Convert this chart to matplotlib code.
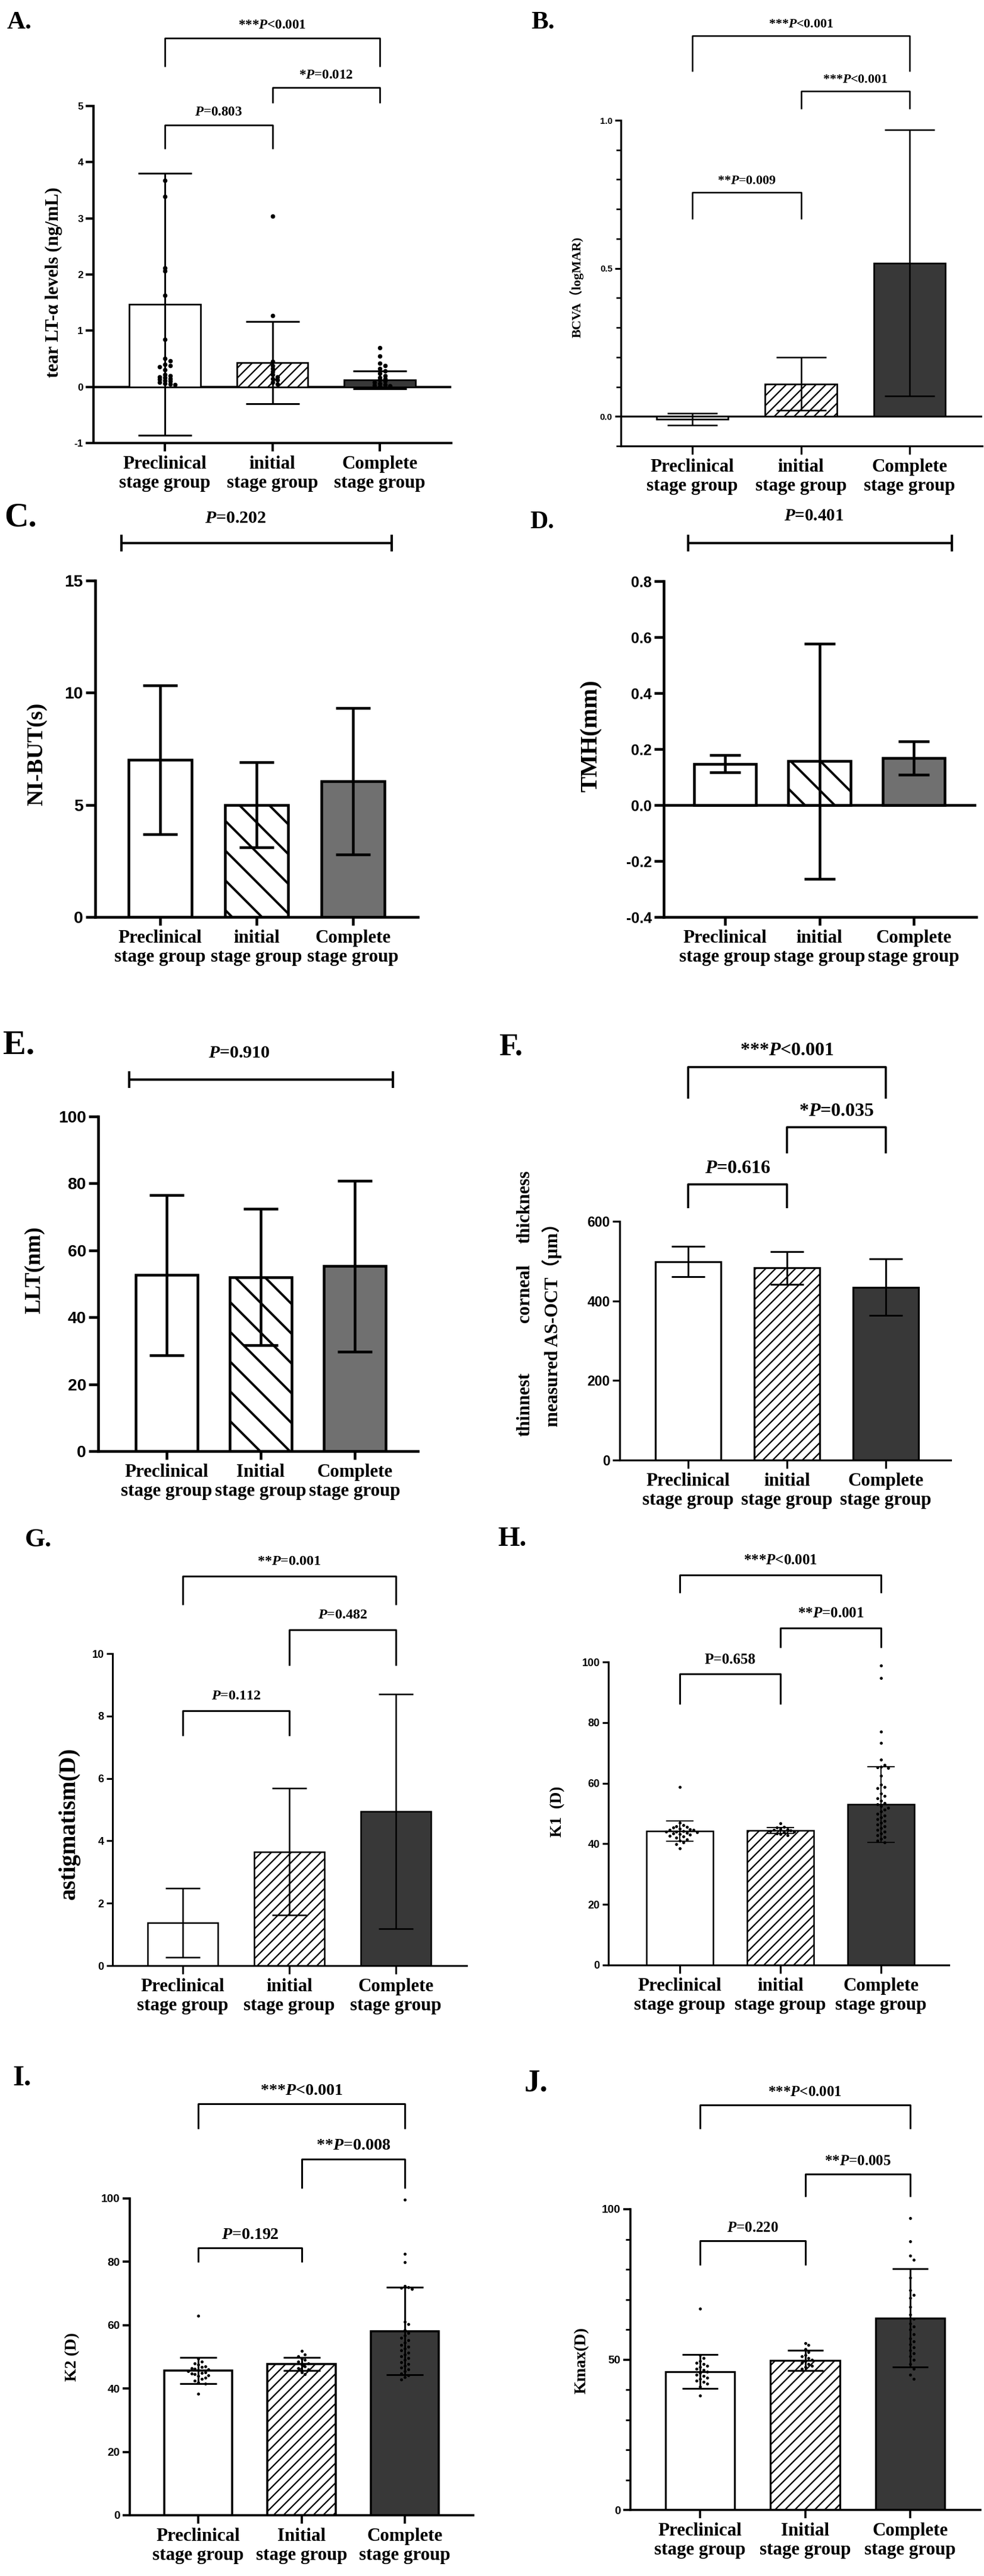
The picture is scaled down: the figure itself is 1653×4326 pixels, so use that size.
import numpy as np
import matplotlib
matplotlib.use('Agg')
import matplotlib.pyplot as plt

W, H, DPI = 1653, 4326, 150
P = 72.0 / DPI  # points per pixel

plt.rcParams['mathtext.fontset'] = 'custom'
plt.rcParams['mathtext.rm'] = 'Liberation Serif:bold'
plt.rcParams['mathtext.it'] = 'Liberation Serif:italic:bold'
plt.rcParams['mathtext.bf'] = 'Liberation Serif:bold'
plt.rcParams['axes.unicode_minus'] = False
plt.rcParams['hatch.linewidth'] = 1.0
SERIF = ['Liberation Serif', 'Noto Sans CJK SC']
SANS = ['Liberation Sans', 'DejaVu Sans']

# ---------------- data ----------------
cats_low = ['Preclinical\nstage group', 'initial\nstage group', 'Complete\nstage group']
cats_up = ['Preclinical\nstage group', 'Initial\nstage group', 'Complete\nstage group']

a_mean = [1.47, 0.43, 0.12]
a_sd = [2.33, 0.73, 0.16]
a_pre = [3.68, 3.39, 2.12, 2.06, 1.63, 0.84, 0.50, 0.46, 0.40, 0.38, 0.36, 0.30,
         0.22, 0.20, 0.18, 0.17, 0.15, 0.13, 0.11, 0.10, 0.08, 0.06, 0.05, 0.04]
a_ini = [3.04, 1.27, 0.45, 0.38, 0.32, 0.27, 0.22, 0.18, 0.15, 0.12, 0.08, 0.05]
a_com = [0.70, 0.55, 0.42, 0.38, 0.32, 0.28, 0.24, 0.20, 0.17, 0.15, 0.12, 0.10,
         0.08, 0.06, 0.04, 0.03, 0.02, 0.01]
a_p = [r'***$\mathit{P}$<0.001', r'*$\mathit{P}$=0.012', r'$\mathit{P}$=0.803']

b_mean = [-0.01, 0.11, 0.518]
b_sd = [0.02, 0.09, 0.449]
b_p = [r'***$\mathit{P}$<0.001', r'***$\mathit{P}$<0.001', r'**$\mathit{P}$=0.009']

c_mean = [7.0, 5.0, 6.05]
c_sd = [3.32, 1.9, 3.27]
c_p = [r'$\mathit{P}$=0.202']

d_mean = [0.147, 0.157, 0.168]
d_sd = [0.031, 0.42, 0.06]
d_p = [r'$\mathit{P}$=0.401']

e_mean = [52.6, 52.0, 55.3]
e_sd = [23.9, 20.4, 25.5]
e_p = [r'$\mathit{P}$=0.910']

f_mean = [499, 483, 434.5]
f_sd = [37.5, 41, 71.5]
f_p = [r'***$\mathit{P}$<0.001', r'*$\mathit{P}$=0.035', r'$\mathit{P}$=0.616']

g_mean = [1.37, 3.65, 4.95]
g_sd = [1.11, 2.03, 3.76]
g_p = [r'**$\mathit{P}$=0.001', r'$\mathit{P}$=0.482', r'$\mathit{P}$=0.112']

h_mean = [44.2, 44.4, 53.0]
h_sd = [3.4, 1.0, 12.5]
h_pre = [58.8, 47.0, 46.2, 45.8, 45.5, 45.3, 45.0, 44.8, 44.6, 44.5, 44.3, 44.1, 44.0,
         43.8, 43.6, 43.4, 43.2, 43.0, 42.7, 42.4, 42.0, 41.5, 41.0, 40.4, 39.8, 38.6]
h_ini = [46.8, 45.6, 45.3, 45.0, 44.8, 44.6, 44.4, 44.2, 44.0, 43.8, 43.5, 43.2, 42.8]
h_com = [98.9, 94.6, 77.1, 73.3, 67.7, 66.0, 65.5, 65.2, 65.0, 62.5, 59.5, 58.8, 58.3,
         56.5, 55.8, 55.0, 54.2, 53.5, 53.0, 52.4, 51.8, 51.2, 50.6, 50.0, 49.4, 48.8,
         48.2, 47.6, 47.0, 46.4, 45.8, 45.2, 44.6, 44.0, 43.4, 42.8, 42.2, 41.6, 41.0, 40.4]
h_p = [r'***$\mathit{P}$<0.001', r'**$\mathit{P}$=0.001', 'P=0.658']

i_mean = [45.7, 47.8, 58.1]
i_sd = [4.2, 2.1, 13.8]
i_pre = [63.0, 49.5, 48.5, 48.0, 47.5, 47.0, 46.8, 46.5, 46.2, 46.0, 45.8, 45.5, 45.2,
         45.0, 44.8, 44.5, 44.2, 44.0, 43.5, 43.0, 42.5, 42.0, 41.5, 38.3]
i_ini = [51.8, 50.8, 50.2, 49.5, 49.0, 48.5, 48.0, 47.5, 47.0, 46.5, 46.0, 45.2, 44.5]
i_com = [99.7, 82.6, 79.8, 72.4, 72.0, 71.8, 71.5, 61.0, 60.4, 58.5, 57.5, 56.8, 56.0,
         55.2, 54.5, 53.8, 53.2, 52.6, 52.0, 51.4, 50.8, 50.2, 49.6, 49.0, 48.4, 47.8,
         47.2, 46.6, 46.0, 45.4, 44.8, 44.2, 43.6, 42.8]
i_p = [r'***$\mathit{P}$<0.001', r'**$\mathit{P}$=0.008', r'$\mathit{P}$=0.192']

j_mean = [46.0, 49.7, 63.8]
j_sd = [5.6, 3.3, 16.3]
j_pre = [66.9, 51.5, 50.5, 49.5, 49.0, 48.5, 48.0, 47.5, 47.0, 46.5, 46.0, 45.5, 45.0,
         44.5, 44.0, 43.5, 43.0, 42.5, 42.0, 41.0, 38.1]
j_ini = [55.5, 54.8, 53.5, 52.5, 51.5, 51.0, 50.5, 50.0, 49.5, 49.0, 48.5, 48.0, 47.5, 47.0]
j_com = [97.0, 89.4, 84.6, 83.2, 77.2, 73.0, 71.5, 70.5, 67.5, 65.0, 63.5, 62.0, 61.0,
         60.0, 58.5, 57.0, 56.0, 55.0, 54.0, 53.0, 52.0, 51.0, 50.0, 48.5, 47.0, 45.0, 43.5]
j_p = [r'***$\mathit{P}$<0.001', r'**$\mathit{P}$=0.005', r'$\mathit{P}$=0.220']

# ---------------- layout (pixels) ----------------
WH = ['white', 'white']
DARK = '#383838'
base = dict(tick_len=12, minor=None, yticklabels=None, dot=5, span=None, brackets=None,
            overlap=1.8)
layouts = {
    'A': dict(box=(157, 178, 758, 744), xc=(277, 638), ylim=(-1, 5), yticks=np.arange(-1, 6),
              fills=WH + [DARK], hatches=[None, '///', None], lw=4, blw=2.7, elw=3, cap=45,
              brlw=2.7, tick_fs=17, tick_len=13, p_fs=23, p_off=21,
              brackets=[(64, 112), (147, 173), (210, 250)], dot=7.5, overlap=0.6, cats=cats_low,
              ylabel='tear LT-α levels (ng/mL)', ylab_xy=(90, 474), ylab_fs=31,
              letter_xy=(33, 38), letter_fs=43),
    'B': dict(box=(1043, 202, 1650, 749), xc=(1163, 1528), ylim=(-0.1, 1.0), yticks=[0, 0.5, 1.0],
              yticklabels=['0.0', '0.5', '1.0'], minor=np.arange(-0.1, 1.01, 0.1),
              fills=WH + [DARK], hatches=[None, '///', None], lw=3.2, blw=2.7, elw=2.5, cap=42,
              brlw=2.5, tick_fs=15, tick_len=10, p_fs=22, p_off=19,
              brackets=[(60, 120), (153, 183), (323, 368)], cats=cats_low,
              ylabel='BCVA（logMAR)', ylab_xy=(969, 482), ylab_fs=22,
              letter_xy=(912, 38), letter_fs=43),
    'C': dict(box=(160, 975, 702, 1540), xc=(269, 593), ylim=(0, 15), yticks=[0, 5, 10, 15],
              fills=WH + ['#707070'], hatches=[None, '\\', None], lw=4.5, blw=4.5, elw=4.5, cap=29,
              brlw=4, tick_fs=28, tick_len=16, p_fs=30, span=(912, 204, 658, 870, 396),
              cats=cats_low, ylabel='NI-BUT(s)', ylab_xy=(62, 1266), ylab_fs=38,
              letter_xy=(35, 870), letter_fs=56),
    'D': dict(box=(1115, 976, 1640, 1540), xc=(1218, 1535), ylim=(-0.4, 0.8),
              yticks=[-0.4, -0.2, 0.0, 0.2, 0.4, 0.6, 0.8],
              yticklabels=['-0.4', '-0.2', '0.0', '0.2', '0.4', '0.6', '0.8'],
              fills=WH + ['#707070'], hatches=[None, '\\', None], lw=4.5, blw=4.5, elw=4.5, cap=26,
              brlw=4, tick_fs=25, tick_len=16, p_fs=29, span=(912, 1156, 1599, 867, 1367),
              cats=cats_low, ylabel='TMH(mm)', ylab_xy=(993, 1236), ylab_fs=40,
              letter_xy=(911, 877), letter_fs=42),
    'E': dict(box=(165, 1875, 702, 2437), xc=(280, 596), ylim=(0, 100), yticks=np.arange(0, 101, 20),
              fills=WH + ['#707070'], hatches=[None, '\\', None], lw=4.5, blw=4.5, elw=4.5, cap=29,
              brlw=4, tick_fs=28, tick_len=16, p_fs=30, span=(1813, 217, 660, 1769, 402),
              cats=cats_up, ylabel='LLT(nm)', ylab_xy=(58, 2133), ylab_fs=37,
              letter_xy=(32, 1755), letter_fs=58),
    'F': dict(box=(1041, 2051, 1597, 2452), xc=(1156, 1488), ylim=(0, 600), yticks=[0, 200, 400, 600],
              fills=WH + [DARK], hatches=[None, '///', None], lw=3.2, blw=3.2, elw=3, cap=28,
              brlw=3.5, tick_fs=23, p_fs=32, p_off=27,
              brackets=[(1792, 1845), (1893, 1937), (1989, 2029)], cats=cats_low,
              ylabel=None, letter_xy=(858, 1758), letter_fs=52),
    'G': dict(box=(189, 2777, 784, 3301), xc=(307, 665), ylim=(0, 10), yticks=np.arange(0, 11, 2),
              fills=WH + [DARK], hatches=[None, '///', None], lw=3, blw=2.5, elw=2.5, cap=29,
              brlw=3, tick_fs=18, tick_len=10, p_fs=24, p_off=24,
              brackets=[(2647, 2695), (2737, 2797), (2873, 2915)], cats=cats_low,
              ylabel='astigmatism(D)', ylab_xy=(116, 3062), ylab_fs=39,
              letter_xy=(64, 2586), letter_fs=44),
    'H': dict(box=(1022, 2791, 1594, 3300), xc=(1142, 1480), ylim=(0, 100), yticks=np.arange(0, 101, 20),
              fills=WH + [DARK], hatches=[None, '///', None], lw=3.2, blw=2.5, elw=2, cap=23,
              brlw=3, tick_fs=18, tick_len=10, p_fs=25, p_off=24,
              brackets=[(2645, 2675), (2734, 2767), (2811, 2862)], cats=cats_low,
              ylabel='K1  (D)', ylab_xy=(937, 3042), ylab_fs=27,
              letter_xy=(860, 2585), letter_fs=47),
    'I': dict(box=(218, 3692, 795, 4224), xc=(333, 680), ylim=(0, 100), yticks=np.arange(0, 101, 20),
              fills=WH + [DARK], hatches=[None, '///', None], lw=3.7, blw=3.5, elw=3, cap=31,
              brlw=3, tick_fs=19, p_fs=28, p_off=22,
              brackets=[(3533, 3575), (3626, 3675), (3775, 3799)], cats=cats_up,
              ylabel='K2 (D)', ylab_xy=(122, 3958), ylab_fs=28,
              letter_xy=(37, 3490), letter_fs=49),
    'J': dict(box=(1059, 3710, 1647, 4215), xc=(1176, 1529), ylim=(0, 100), yticks=[0, 50, 100],
              minor=np.arange(0, 101, 10),
              fills=WH + [DARK], hatches=[None, '///', None], lw=3.5, blw=3.2, elw=3, cap=30,
              brlw=3, tick_fs=19, p_fs=25, p_off=22,
              brackets=[(3535, 3575), (3651, 3689), (3763, 3804)], cats=cats_up,
              ylabel='Kmax(D)', ylab_xy=(977, 3964), ylab_fs=28,
              letter_xy=(901, 3498), letter_fs=53),
}

fig = plt.figure(figsize=(W / DPI, H / DPI), dpi=DPI)
fig.patch.set_facecolor('white')


def swarm(vals, ppu, dot_px, step, overlap):
    # simple column beeswarm: each point takes the nearest free column
    placed, offs = [], []
    cands = [0] + [s * n for n in range(1, 40) for s in (1, -1)]
    for v in vals:
        for c in cands:
            if all(c != c2 or abs(v - v2) * ppu >= dot_px * overlap for c2, v2 in placed):
                break
        placed.append((c, v))
        offs.append(c * step)
    return np.array(offs)


def draw(key, mean, sd, pvals, pts=None):
    lay = dict(base)
    lay.update(layouts[key])
    l, t, r, b = lay['box']
    ax = fig.add_axes([l / W, 1 - b / H, (r - l) / W, (b - t) / H])
    lo, hi = lay['ylim']
    ppu = (b - t) / (hi - lo)
    x0, x2 = lay['xc']
    sp = (x2 - x0) / 2.0
    ax.set_xlim((l - x0) / sp, (r - x0) / sp)
    ax.set_ylim(lo, hi)
    ax.set_facecolor('none')

    def ydat(py):
        return hi + (t - py) / ppu

    x = np.arange(3)
    hlw = 1.9 if lay['hatches'][1] == '\\' else 1.1
    for i in range(3):
        bars = ax.bar(x[i], mean[i], width=0.66, color=lay['fills'][i], edgecolor='black',
                      linewidth=lay['blw'] * P, hatch=lay['hatches'][i], zorder=2)
        for p in bars:
            try:
                p.set_hatch_linewidth(hlw)
            except AttributeError:
                pass
    if lo < 0:
        ax.axhline(0, color='black', lw=lay['lw'] * P, zorder=1.5)
    if pts is not None:
        step = lay['dot'] * 1.15 / sp
        for i, vals in enumerate(pts):
            offs = swarm(vals, ppu, lay['dot'], step, lay['overlap'])
            ax.scatter(i + offs, vals, s=(lay['dot'] * P) ** 2, color='black',
                       linewidths=0, zorder=3)
    ax.errorbar(x, mean, yerr=sd, fmt='none', ecolor='black', elinewidth=lay['elw'] * P,
                capsize=lay['cap'] * P, capthick=lay['elw'] * P, zorder=4)

    txt_kw = dict(ha='center', va='center', fontsize=lay['p_fs'] * P,
                  fontfamily=SERIF, fontweight='bold')
    if lay['brackets']:
        for (i, j), (yh, yl), txt in zip([(0, 2), (1, 2), (0, 1)], lay['brackets'], pvals):
            ax.plot([i, i, j, j], [ydat(yl), ydat(yh), ydat(yh), ydat(yl)], color='black',
                    lw=lay['brlw'] * P, clip_on=False, solid_capstyle='butt')
            ax.text((i + j) / 2, ydat(yh - lay['p_off']), txt, **txt_kw)
    if lay['span']:
        ly, lx1, lx2, ty, tx = lay['span']
        xa, xb = (lx1 - x0) / sp, (lx2 - x0) / sp
        yy, cap = ydat(ly), 12 / ppu
        ax.plot([xa, xb], [yy, yy], color='black', lw=lay['brlw'] * P, clip_on=False)
        for xe in (xa, xb):
            ax.plot([xe, xe], [yy - cap, yy + cap], color='black', lw=lay['brlw'] * P,
                    clip_on=False)
        ax.text((tx - x0) / sp, ydat(ty), pvals[0], **txt_kw)

    for s in ('top', 'right'):
        ax.spines[s].set_visible(False)
    for s in ('left', 'bottom'):
        ax.spines[s].set_linewidth(lay['lw'] * P)
    ax.set_yticks(lay['yticks'])
    if lay['yticklabels'] is not None:
        ax.set_yticklabels(lay['yticklabels'])
    if lay['minor'] is not None:
        ax.set_yticks(lay['minor'], minor=True)
        ax.tick_params(axis='y', which='minor', length=8 * P, width=lay['lw'] * P * 0.8)
    ax.tick_params(axis='y', which='major', length=lay['tick_len'] * P, width=lay['lw'] * P,
                   labelsize=lay['tick_fs'] * P, pad=2)
    for lab in ax.get_yticklabels():
        lab.set_fontfamily(SANS)
        lab.set_fontweight('bold')
    ax.set_xticks(x)
    ax.set_xticklabels(lay['cats'], fontfamily=SERIF, fontweight='bold', fontsize=31 * P,
                       linespacing=1.15)
    ax.tick_params(axis='x', length=14 * P, width=lay['lw'] * P, pad=7 * P)

    if lay['ylabel']:
        lx, lyy = lay['ylab_xy']
        fig.text(lx / W, 1 - lyy / H, lay['ylabel'], rotation=90, ha='center', va='center',
                 fontsize=lay['ylab_fs'] * P, fontfamily=SERIF, fontweight='bold')
    kx, ky = lay['letter_xy']
    fig.text(kx / W, 1 - ky / H, key + '.', ha='center', va='center',
             fontsize=lay['letter_fs'] * P, fontfamily=SERIF, fontweight='bold')
    return ax


draw('A', a_mean, a_sd, a_p, [a_pre, a_ini, a_com])
draw('B', b_mean, b_sd, b_p)
draw('C', c_mean, c_sd, c_p)
draw('D', d_mean, d_sd, d_p)
draw('E', e_mean, e_sd, e_p)
draw('F', f_mean, f_sd, f_p)
draw('G', g_mean, g_sd, g_p)
draw('H', h_mean, h_sd, h_p, [h_pre, h_ini, h_com])
draw('I', i_mean, i_sd, i_p, [i_pre, i_ini, i_com])
draw('J', j_mean, j_sd, j_p, [j_pre, j_ini, j_com])

# justified two-line y label of panel F
f_words = [('thinnest', 2358), ('corneal', 2172), ('thickness', 2027)]
for word, wy in f_words:
    fig.text(882 / W, 1 - wy / H, word, rotation=90, ha='center', va='center',
             fontsize=31 * P, fontfamily=SERIF, fontweight='bold')
fig.text(927 / W, 1 - 2218 / H, 'measured AS-OCT（μm）', rotation=90, ha='center', va='center',
         fontsize=31 * P, fontfamily=SERIF, fontweight='bold')

fig.savefig('out.png', dpi=DPI, facecolor='white')
